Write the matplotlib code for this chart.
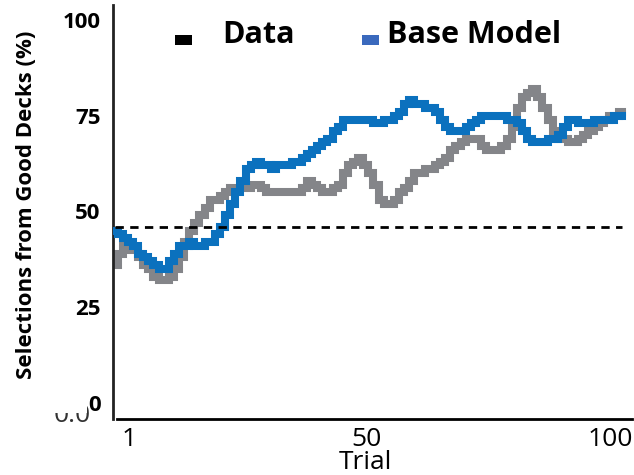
import matplotlib
matplotlib.use("Agg")
import matplotlib.pyplot as plt
from matplotlib.patches import Rectangle
import numpy as np

# trial numbers and % selections from good decks
trials = np.arange(1, 101)
data_pct = [36, 39, 41, 40, 40, 38, 36, 35, 33, 32,
            32, 33, 35, 38, 42, 45, 47, 49, 51, 53,
            53, 54, 55, 56, 56, 56, 56, 57, 57, 56,
            55, 55, 55, 55, 55, 55, 55, 56, 58, 57,
            56, 55, 55, 56, 57, 60, 62, 63, 64, 62,
            60, 57, 53, 52, 52, 53, 55, 56, 58, 60,
            60, 61, 61, 62, 63, 64, 66, 67, 68, 69,
            69, 69, 67, 66, 66, 66, 67, 69, 72, 77,
            80, 81, 82, 80, 77, 74, 71, 69, 69, 68,
            68, 69, 70, 71, 72, 73, 74, 75, 75, 76]
model_pct = [45, 44, 43, 42, 41, 39, 38, 37, 36, 35,
             35, 37, 39, 41, 41, 42, 41, 41, 42, 42,
             44, 46, 49, 52, 55, 58, 61, 62, 63, 62,
             62, 61, 62, 62, 62, 63, 63, 64, 65, 66,
             67, 68, 69, 71, 72, 74, 74, 74, 74, 74,
             74, 73, 73, 74, 74, 75, 76, 78, 79, 78,
             78, 77, 77, 76, 74, 72, 71, 71, 71, 72,
             73, 74, 75, 75, 75, 75, 75, 74, 74, 73,
             71, 69, 68, 68, 68, 69, 69, 70, 72, 74,
             74, 73, 73, 73, 74, 74, 74, 74, 75, 75]
chance_level = 46
xtick_labels = ["1", "50", "100"]
ytick_vals = [0, 25, 50, 75, 100]

W, H = 634, 475
fig = plt.figure(figsize=(W / 100, H / 100), dpi=100)
ax = fig.add_axes([113 / W, 1 - 419 / H, 519 / W, 414 / H])

def px(x, y):
    # image pixel -> figure fraction
    return x / W, 1 - y / H

ax.plot(trials, data_pct, color="#848589", lw=5.8, drawstyle="steps-mid",
        solid_joinstyle="miter", zorder=2)
ax.plot(trials, model_pct, color="#0b71be", lw=5.8, drawstyle="steps-mid",
        solid_joinstyle="miter", zorder=3)
ax.hlines(chance_level, 1, 100, colors="black", lw=2, linestyles=(0, (3, 2.3)), zorder=4)

ax.set_xlim(0.61, 102.0)
ax.set_ylim(-4.2, 103.9)
ax.set_xticks([3.73, 50.2, 97.7])
ax.set_xticklabels(xtick_labels, fontsize=19, family="Open Sans")
ax.set_yticks(ytick_vals)
ax.set_yticklabels([str(v) for v in ytick_vals], fontsize=16, family="Open Sans",
                   fontweight="bold")
ax.tick_params(axis="both", length=0)
ax.tick_params(axis="x", pad=6)
ax.tick_params(axis="y", pad=9)

for s in ["top", "right"]:
    ax.spines[s].set_visible(False)
ax.spines["left"].set_linewidth(2)
ax.spines["left"].set_color("#222222")
ax.spines["bottom"].set_linewidth(2)
ax.spines["bottom"].set_bounds(1.39, 102.0)

xl = ax.set_xlabel("Trial", fontsize=19, family="Open Sans")
xl.set_va("baseline")
ax.xaxis.set_label_coords(0.486, -0.121)
ax.set_ylabel("Selections from Good Decks (%)", fontsize=16, family="Open Sans",
              fontweight="bold")
ax.yaxis.set_label_coords(-0.146, 0.517)

# legend drawn by hand (uneven spacing in the original)
for (x0, color, label, tx) in [(175, "black", "Data", 222), (362, "#3a69bd", "Base Model", 387)]:
    fx, fy = px(x0, 45)
    fig.add_artist(Rectangle((fx, fy), 17 / W, 10 / H, transform=fig.transFigure,
                             color=color, lw=0))
    tfx, tfy = px(tx, 35)
    fig.text(tfx, tfy, label, fontsize=22, family="Open Sans", fontweight="bold",
             ha="left", va="center")

# leftover "0.0" peeking out under the zero label, top half hidden
fig.text(72 / W, 1 - 422 / H, "0.0", fontsize=19, family="Open Sans",
         color="#333333", ha="center", va="baseline", zorder=1)
fx, fy = px(40, 413)
fig.add_artist(Rectangle((fx, fy), 47 / W, 20 / H, transform=fig.transFigure,
                         color="white", lw=0, zorder=1.5))

fig.savefig("out.png", dpi=100)
